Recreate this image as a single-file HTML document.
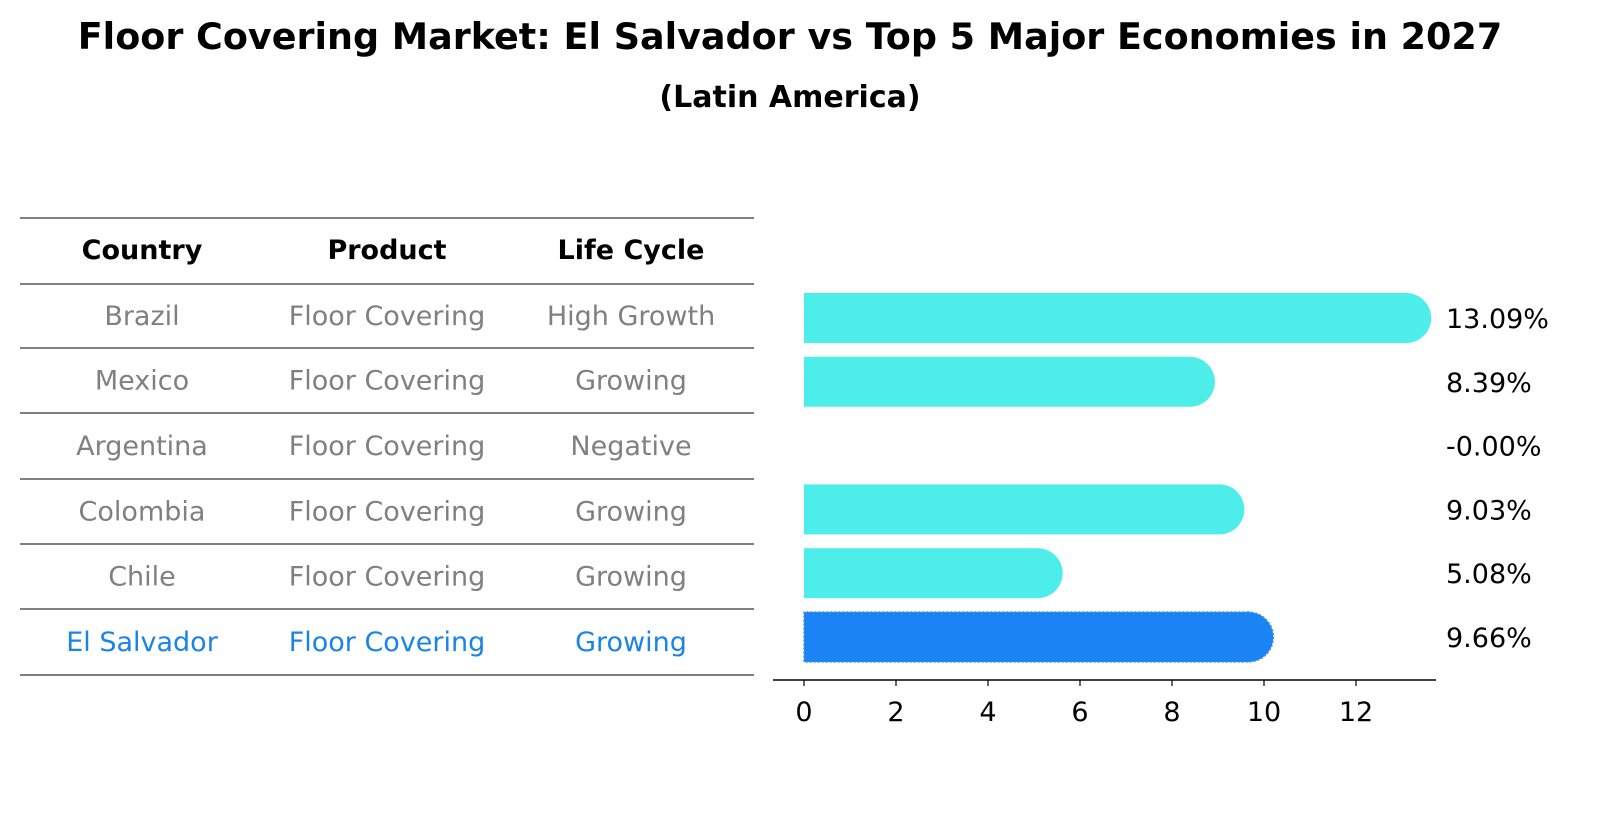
<!DOCTYPE html>
<html><head><meta charset="utf-8"><style>
body{margin:0;background:#fff}
svg{display:block;font-family:"DejaVu Sans","Liberation Sans",sans-serif}
</style></head><body>
<svg width="1604" height="823" viewBox="0 0 1604 823">
<text x="790" y="49" text-anchor="middle" font-size="36.5" font-weight="bold">Floor Covering Market: El Salvador vs Top 5 Major Economies in 2027</text>
<text x="790" y="107" text-anchor="middle" font-size="30" font-weight="bold">(Latin America)</text>
<g id="table"></g>
<g id="bars"></g>
</svg>
<script>
const countries=["Brazil","Mexico","Argentina","Colombia","Chile","El Salvador"];
const products=["Floor Covering","Floor Covering","Floor Covering","Floor Covering","Floor Covering","Floor Covering"];
const lifecycles=["High Growth","Growing","Negative","Growing","Growing","Growing"];
const values=[13.09,8.39,-0.00,9.03,5.08,9.66];
const ticks=[0,2,4,6,8,10,12];
const NS="http://www.w3.org/2000/svg";
function mk(tag,attrs,parent,text){const e=document.createElementNS(NS,tag);for(const k in attrs)e.setAttribute(k,attrs[k]);if(text!==undefined)e.textContent=text;parent.appendChild(e);return e;}
const xs=v=>804+46*v;
const rowY=i=>318+i*63.8;
const tbl=document.getElementById('table');
const lineYs=[218,284,348,413,479,544,609,675];
lineYs.forEach((y,i)=>{const l=mk('line',{x1:20,x2:754,y1:y,y2:y,stroke:'#000','stroke-width':1},tbl);

});
const cols=[142,387,631];
["Country","Product","Life Cycle"].forEach((h,j)=>{const t=mk('text',{x:cols[j],y:259,'text-anchor':'middle','font-size':27,'font-weight':'bold'},tbl,h);

});
countries.forEach((c,i)=>{const y=(lineYs[i+1]+lineYs[i+2])/2+9;const col=i===5?'#1a84e6':'#808080';
[c,products[i],lifecycles[i]].forEach((s,j)=>{const t=mk('text',{x:cols[j],y:y,'text-anchor':'middle','font-size':27,fill:col},tbl,s);

});});
const g=document.getElementById('bars');
values.forEach((v,i)=>{const cy=rowY(i);const h=50;const hl=i===5;const col=hl?'#1a84f5':'#4deeea';
if(v>0){const r=mk('rect',{x:xs(0),y:cy-h/2,width:xs(v)-xs(0),height:h,fill:col},g);


const c=mk('circle',{cx:xs(v),cy:cy,r:h/2,fill:col},g);


if(hl){const x0=xs(0),x1=xs(v);const o=mk('path',{d:`M${x1},${cy-h/2} L${x0},${cy-h/2} L${x0},${cy+h/2} L${x1},${cy+h/2} A${h/2},${h/2} 0 0 0 ${x1},${cy-h/2}`,fill:'none',stroke:'#4a90d9','stroke-width':1.5,'stroke-dasharray':'2,2'},g);

}}
const t=mk('text',{x:1446,y:cy+10,'font-size':27},g,v.toFixed(2)==="0.00"&&Object.is(v,-0)?"-0.00%":v.toFixed(2)+"%");

});
const ax=mk('line',{x1:773,x2:1436,y1:680,y2:680,stroke:'#000','stroke-width':1.5},g);


ticks.forEach(tv=>{const tl=mk('line',{x1:xs(tv),x2:xs(tv),y1:680,y2:686,stroke:'#000','stroke-width':1.2},g);


const tt=mk('text',{x:xs(tv),y:721,'text-anchor':'middle','font-size':27},g,String(tv));

});
</script>
</body></html>
